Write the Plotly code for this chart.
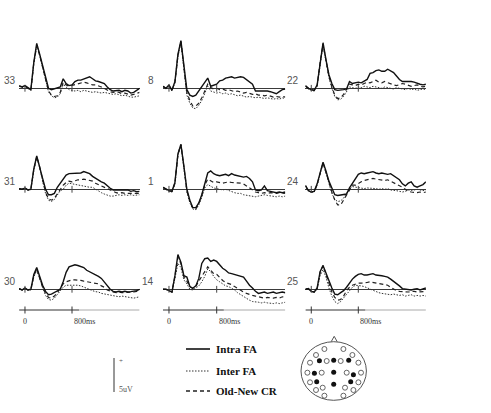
import plotly.graph_objects as go

W, H = 491, 413

# ---------------- data ----------------
time_ms = list(range(-100, 2000, 50))          # 42 samples, -100 .. 1950 ms
electrodes = ["33", "8", "22", "31", "1", "24", "30", "14", "25"]
conditions = ["Intra FA", "Inter FA", "Old-New CR"]
time_ticks = [0, 800]
time_tick_labels = ["0", "800ms"]
scale_bar_uV = [0, 5]

e33_intra = [0.4,0.2,0.4,0.1,-0.2,3.8,6.6,5.0,3.2,1.6,0.0,-0.2,-0.1,0.0,0.2,1.4,0.7,0.4,0.5,1.0,1.2,1.2,1.4,1.5,1.7,1.4,1.1,1.0,0.9,0.7,0.2,-0.2,-0.4,-0.3,-0.3,-0.5,-0.3,-0.4,-0.7,-0.6,-0.3,0.0]
e33_inter = [0.3,0.1,0.3,0.0,-0.3,3.6,6.4,4.8,3.0,1.2,-0.5,-1.1,-1.4,-1.3,-0.8,0.6,0.2,-0.2,-0.3,-0.4,-0.3,-0.5,-0.3,-0.4,-0.5,-0.6,-0.5,-0.6,-0.7,-0.6,-0.7,-0.8,-0.9,-0.8,-1.0,-1.1,-1.0,-1.2,-1.3,-1.3,-1.2,-1.1]
e33_cr    = [0.3,0.2,0.3,0.0,-0.3,3.7,6.2,4.9,3.1,1.4,-0.4,-1.0,-1.2,-1.1,-0.6,0.9,0.5,0.3,0.4,0.6,0.7,0.8,0.9,0.8,0.6,0.5,0.5,0.4,0.2,0.0,-0.3,-0.5,-0.6,-0.5,-0.6,-0.8,-0.7,-0.8,-1.0,-0.9,-0.7,-0.6]

e8_intra = [0.3,0.0,0.5,-0.3,1.0,5.0,7.0,3.5,-0.2,-1.0,-1.2,-1.0,-0.4,0.3,0.9,1.5,0.3,0.4,0.6,1.1,1.2,1.5,1.6,1.7,1.5,1.6,1.7,1.6,1.3,1.0,0.6,-0.4,-0.4,-0.3,-0.3,-0.4,-0.5,-0.6,-0.8,-0.5,-0.2,-0.1]
e8_inter = [0.2,-0.1,0.3,-0.4,0.8,4.6,6.8,3.0,-1.0,-2.2,-2.9,-3.0,-2.5,-1.8,-0.8,0.3,-0.4,-0.6,-0.7,-0.6,-0.8,-0.7,-0.9,-0.8,-1.0,-1.1,-1.0,-1.2,-1.3,-1.2,-1.3,-1.4,-1.3,-1.4,-1.5,-1.4,-1.5,-1.6,-1.5,-1.6,-1.4,-1.5]
e8_cr    = [0.3,0.0,0.4,-0.3,0.9,4.8,6.9,3.2,-0.6,-1.8,-2.6,-2.6,-2.2,-1.4,-0.4,0.6,0.1,-0.1,0.0,-0.2,-0.1,-0.3,-0.2,-0.4,-0.5,-0.4,-0.6,-0.7,-0.6,-0.8,-0.9,-0.8,-1.0,-1.0,-1.1,-1.0,-1.2,-1.3,-1.2,-1.3,-1.2,-1.3]

e22_intra = [0.4,0.0,-0.2,-0.3,0.5,4.0,6.7,4.2,2.0,0.7,-0.2,-0.3,-0.3,-0.2,-0.1,1.0,0.7,0.8,0.9,0.8,1.0,1.3,2.2,2.3,2.6,2.7,2.5,2.5,2.8,2.6,2.3,1.8,1.3,1.0,1.0,1.1,1.0,0.9,0.7,0.6,0.5,0.6]
e22_inter = [0.3,-0.1,-0.3,-0.4,0.3,3.6,6.3,4.0,1.6,0.0,-1.2,-1.7,-1.6,-1.2,-0.4,0.2,0.1,0.0,0.2,0.1,0.3,0.2,0.1,0.3,0.2,0.1,0.0,0.2,0.1,0.0,-0.1,0.1,0.0,-0.1,-0.2,0.0,-0.2,-0.1,-0.3,-0.2,-0.1,-0.2]
e22_cr    = [0.3,0.0,-0.2,-0.3,0.4,3.8,6.5,4.1,1.8,0.2,-1.0,-1.5,-1.4,-0.9,-0.2,0.6,0.5,0.4,0.6,0.5,0.7,0.9,0.8,1.0,1.2,0.9,0.8,1.0,0.8,0.6,0.5,0.4,0.5,0.7,0.6,0.4,0.3,0.4,0.5,0.3,0.2,0.3]

e31_intra = [0.1,0.0,0.2,-0.1,0.0,3.0,4.9,3.4,1.6,0.0,-0.8,-0.8,-0.6,0.3,0.9,1.6,2.1,2.3,2.3,2.35,2.3,2.4,2.6,2.5,2.3,1.9,1.6,1.4,1.1,0.9,0.5,0.15,-0.1,-0.1,-0.2,-0.1,-0.2,-0.1,-0.3,-0.2,-0.35,-0.3]
e31_inter = [0.1,0.0,0.1,-0.1,-0.1,2.8,4.7,3.2,1.2,-0.6,-1.6,-1.8,-1.5,-0.9,-0.2,0.0,0.6,0.9,0.8,0.7,0.6,0.6,0.5,0.4,0.3,0.3,0.0,-0.2,-0.5,-0.7,-0.9,-1.0,-1.0,-0.9,-0.8,-0.9,-0.8,-0.9,-0.8,-0.9,-0.8,-0.8]
e31_cr    = [0.1,0.0,0.2,-0.1,0.0,2.9,4.8,3.3,1.4,-0.4,-1.4,-1.6,-1.3,-0.6,0.1,0.6,1.0,1.2,1.1,1.3,1.4,1.4,1.5,1.4,1.3,1.2,0.9,0.7,0.4,0.2,0.0,-0.2,-0.4,-0.5,-0.6,-0.5,-0.6,-0.6,-0.5,-0.6,-0.5,-0.6]

e1_intra = [0.3,0.0,-0.2,-0.3,1.0,5.2,6.6,3.4,0.0,-1.6,-2.7,-2.7,-2.0,-0.8,0.8,2.4,2.7,2.3,2.1,2.0,2.1,2.2,2.0,2.3,2.1,2.0,1.9,1.8,1.9,1.6,1.1,-0.1,-0.2,-0.1,0.5,-0.2,-0.3,-0.4,-0.5,-0.4,-0.5,-0.4]
e1_inter = [0.2,-0.1,-0.3,-0.4,0.8,5.0,6.5,3.2,-0.4,-2.0,-2.9,-3.0,-2.3,-1.2,0.2,0.7,0.4,0.2,0.1,0.0,-0.1,0.0,-0.2,-0.4,-0.5,-0.6,-0.6,-0.8,-0.9,-1.0,-1.1,-1.1,-1.0,-0.9,-0.8,-0.9,-1.0,-1.0,-1.1,-1.0,-1.1,-1.0]
e1_cr    = [0.3,0.0,-0.2,-0.3,0.9,5.1,6.6,3.3,-0.2,-1.8,-2.8,-2.9,-2.1,-0.9,0.6,1.5,1.2,1.0,1.1,1.0,0.9,1.0,1.1,1.0,1.0,1.0,0.9,0.8,0.5,0.2,-0.2,-0.4,-0.5,-0.6,-0.5,-0.6,-0.5,-0.6,-0.6,-0.5,-0.6,-0.6]

e24_intra = [0.6,-0.2,-0.4,-0.3,0.8,2.6,4.0,2.7,1.2,0.2,-0.8,-0.9,-0.8,-0.8,-0.7,0.2,0.9,1.5,2.2,2.4,2.3,2.4,2.5,2.6,2.4,2.3,2.4,2.3,2.2,2.3,2.0,1.8,1.4,0.8,0.5,0.9,1.1,0.5,0.3,0.5,0.7,1.1]
e24_inter = [0.5,-0.2,-0.4,-0.4,0.6,2.4,3.8,2.4,0.7,-0.6,-1.5,-1.8,-1.7,-1.3,-0.6,0.0,0.4,0.3,0.2,0.2,0.1,0.2,0.2,0.1,0.1,0.0,0.1,0.0,0.1,-0.1,-0.1,-0.2,-0.3,-0.4,-0.3,-0.1,-0.2,-0.1,0.0,-0.1,-0.2,-0.1]
e24_cr    = [0.5,-0.2,-0.4,-0.3,0.7,2.5,3.9,2.5,0.9,-0.4,-1.6,-2.3,-2.3,-1.6,-0.8,0.0,0.6,0.6,0.9,1.1,1.3,1.4,1.5,1.6,1.5,1.4,1.4,1.3,1.4,1.2,1.0,0.8,0.5,0.3,0.0,-0.3,-0.4,-0.5,-0.5,-0.4,-0.5,-0.4]

e30_intra = [0.1,-0.1,0.2,-0.1,0.0,2.2,3.2,1.9,0.6,-0.3,-0.8,-0.7,-0.5,-0.3,0.0,1.1,2.5,3.3,3.5,3.6,3.5,3.4,3.2,2.8,2.6,2.4,2.2,1.9,1.6,1.1,0.6,0.0,-0.3,-0.4,-0.3,-0.4,-0.3,-0.4,-0.35,-0.3,-0.2,0.0]
e30_inter = [0.1,-0.1,0.1,-0.1,-0.1,1.8,2.8,1.5,0.1,-0.9,-1.5,-1.6,-1.3,-0.8,-0.2,0.3,0.6,0.6,0.6,0.7,0.6,0.5,0.3,0.2,0.0,-0.2,-0.35,-0.4,-0.6,-0.7,-0.8,-0.9,-0.9,-1.0,-1.1,-1.0,-1.1,-1.2,-1.3,-1.3,-1.2,-1.1]
e30_cr    = [0.1,-0.1,0.1,-0.1,0.0,2.0,3.0,1.7,0.3,-0.6,-1.2,-1.3,-1.0,-0.5,0.1,0.8,1.1,1.3,1.4,1.4,1.4,1.3,1.2,1.1,1.0,1.0,0.9,0.8,0.5,0.3,-0.1,-0.3,-0.4,-0.5,-0.4,-0.5,-0.5,-0.4,-0.5,-0.4,-0.3,-0.1]

e14_intra = [0.0,0.0,-0.2,-0.4,2.0,5.1,4.0,2.0,1.8,0.4,0.15,0.5,1.6,3.8,4.5,4.6,4.1,4.3,4.1,3.6,3.1,2.8,2.4,2.3,2.2,2.1,2.0,1.8,1.2,0.6,0.2,-0.3,-0.6,-0.5,-0.4,-0.6,-0.5,-0.4,-0.6,-0.5,-0.4,-0.5]
e14_inter = [0.0,0.0,-0.2,-0.4,1.6,3.8,3.2,1.4,0.8,0.0,-0.1,0.2,0.5,1.1,1.9,3.0,2.6,1.9,1.4,1.1,0.8,0.5,0.4,0.2,-0.1,-0.5,-0.8,-1.0,-1.3,-1.6,-1.8,-1.8,-1.9,-2.0,-1.9,-2.0,-2.1,-2.1,-2.0,-2.1,-2.0,-1.9]
e14_cr    = [0.0,0.0,-0.2,-0.4,1.9,4.7,3.8,1.8,1.2,0.4,0.1,0.4,1.2,1.9,2.6,3.3,2.8,2.3,2.2,1.7,1.3,1.0,0.9,0.7,0.4,0.1,-0.2,-0.4,-0.6,-0.8,-0.9,-1.0,-1.1,-1.2,-1.3,-1.2,-1.3,-1.3,-1.2,-1.3,-1.1,-1.2]

e25_intra = [0.0,0.1,-0.3,-0.4,0.2,2.6,3.5,2.4,1.0,0.2,-0.7,-0.8,-0.5,-0.2,0.3,1.0,1.5,1.9,2.2,2.3,2.1,2.1,2.2,2.3,2.1,2.1,2.0,1.9,1.8,1.5,1.2,0.9,0.5,0.1,0.0,0.0,-0.1,0.0,0.1,-0.1,0.1,0.2]
e25_inter = [0.0,0.1,-0.3,-0.4,0.0,2.0,2.9,1.8,0.2,-1.0,-1.8,-2.1,-1.8,-1.3,-0.8,-0.2,0.3,0.6,0.6,0.5,0.4,0.2,0.1,-0.1,-0.3,-0.5,-0.6,-0.7,-0.8,-0.8,-0.7,-0.8,-0.9,-0.8,-1.0,-0.9,-0.8,-1.0,-0.9,-1.0,-0.9,-1.0]
e25_cr    = [0.0,0.1,-0.3,-0.4,0.1,2.5,3.5,2.3,0.8,-0.4,-1.2,-1.6,-1.5,-1.0,-0.2,0.3,0.6,0.8,0.9,0.9,0.9,1.0,1.1,1.0,0.9,0.9,0.8,0.7,0.6,0.3,0.0,-0.2,-0.3,-0.35,-0.3,-0.4,-0.35,-0.3,-0.4,-0.35,-0.3,-0.3]

# electrode map (head coordinates, 1 unit = 1 px; y up; nose at top)
open_x = [-9.3, 9.7, -17.7, 18.7, -23.7, -7.0, 7.0, 24.7, -26.3, -12.0, 13.0, 27.3, -23.7, 24.7, -17.7, -11.0, 11.3, 19.7, -9.3, 9.7]
open_y = [22.0, 22.0, 16.0, 16.0, 8.3, 10.0, 10.0, 8.3, -1.7, -1.7, -1.7, -1.7, -11.3, -11.3, -19.0, -16.7, -16.7, -19.0, -24.7, -24.7]
shown_x = [-14.3, 0.0, 15.0, -19.3, 0.0, 19.7, -17.0, 0.0, 17.0]
shown_y = [10.3, 10.7, 10.7, -2.3, -1.3, -3.7, -10.7, -13.3, -10.7]

waves = {
    "33": (e33_intra, e33_inter, e33_cr), "8": (e8_intra, e8_inter, e8_cr), "22": (e22_intra, e22_inter, e22_cr),
    "31": (e31_intra, e31_inter, e31_cr), "1": (e1_intra, e1_inter, e1_cr), "24": (e24_intra, e24_inter, e24_cr),
    "30": (e30_intra, e30_inter, e30_cr), "14": (e14_intra, e14_inter, e14_cr), "25": (e25_intra, e25_inter, e25_cr),
}
for k, v in waves.items():
    for s in v:
        assert len(s) == len(time_ms), (k, len(s))

# ---------------- geometry ----------------
def px(x):
    return x / W

def py(y):
    return 1 - y / H

PX_PER_UV = 6.8
col_px = [(19.1, 139.6), (163.0, 285.3), (305.4, 425.9)]
row_base = [88.3, 189.3, 289.3]
ABOVE, BELOW = 55, 25
label_right = [17.5, 155.5, 300.5]
label_dy = 8.0

styles = {
    "Intra FA": dict(color="#111111", width=1.4, dash="solid"),
    "Inter FA": dict(color="#333333", width=1.0, dash="1.5px,1.5px"),
    "Old-New CR": dict(color="#222222", width=1.2, dash="4px,3px"),
}

fig = go.Figure()
layout = dict(width=W, height=H, margin=dict(l=0, r=0, t=0, b=0), paper_bgcolor="white",
              plot_bgcolor="rgba(0,0,0,0)", showlegend=False)
shapes, annotations = [], []

for i, e in enumerate(electrodes):
    r, c = divmod(i, 3)
    n = i + 1
    sx = "" if n == 1 else str(n)
    x0, x1 = col_px[c]
    b = row_base[r]
    layout["xaxis" + sx] = dict(domain=[px(x0), px(x1)], range=[time_ms[0], time_ms[-1]], visible=False,
                                anchor="y" + sx)
    layout["yaxis" + sx] = dict(domain=[py(b + BELOW), py(b - ABOVE)], range=[-BELOW / PX_PER_UV, ABOVE / PX_PER_UV],
                                showgrid=False, showticklabels=False, ticks="", showline=False,
                                zeroline=True, zerolinecolor="#3a3a3a", zerolinewidth=1, anchor="x" + sx)
    intra, inter, cr = waves[e]
    for cond, ys in (("Inter FA", inter), ("Old-New CR", cr), ("Intra FA", intra)):
        fig.add_trace(go.Scatter(x=time_ms, y=ys, mode="lines", name=cond, line=styles[cond],
                                 xaxis="x" + sx, yaxis="y" + sx, hoverinfo="skip"))
    # small ticks on the baseline at 0 and 800 ms
    for t in time_ticks:
        shapes.append(dict(type="line", xref="x" + sx, yref="y" + sx, x0=t, x1=t, y0=-0.5, y1=0.5,
                           line=dict(color="#444", width=1)))
    annotations.append(dict(text=e, xref="paper", yref="paper", x=px(label_right[c]), y=py(b - label_dy),
                            xanchor="right", yanchor="middle", showarrow=False,
                            font=dict(family="Liberation Sans, Arial", size=10, color="#555")))
    # time axis under the bottom row
    if r == 2:
        ya = py(310)
        shapes.append(dict(type="line", xref="x" + sx, yref="paper", x0=time_ms[0], x1=920, y0=ya, y1=ya,
                           line=dict(color="#333", width=1)))
        shapes.append(dict(type="line", xref="x" + sx, yref="paper", x0=920, x1=time_ms[-1], y0=ya, y1=ya,
                           line=dict(color="#aaa", width=1)))
        for t, lab in zip(time_ticks, time_tick_labels):
            shapes.append(dict(type="line", xref="x" + sx, yref="paper", x0=t, x1=t, y0=py(306.5), y1=py(313.5),
                               line=dict(color="#333", width=1)))
            annotations.append(dict(text=lab, xref="x" + sx, yref="paper", x=t, y=py(321),
                                    xanchor="center" if t == 0 else "left", yanchor="middle", showarrow=False,
                                    font=dict(family="Liberation Serif, Times New Roman", size=8, color="#333")))

# ---------------- scale bar (5 uV) ----------------
sb_bottom = 392.0
layout["xaxis10"] = dict(domain=[px(104), px(144)], range=[-10, 30], visible=False, anchor="y10")
layout["yaxis10"] = dict(domain=[py(398), py(352)], range=[-(398 - sb_bottom) / PX_PER_UV, (sb_bottom - 352) / PX_PER_UV],
                         visible=False, anchor="x10")
fig.add_trace(go.Scatter(x=[0, 0], y=scale_bar_uV, mode="lines", line=dict(color="#333", width=1),
                         xaxis="x10", yaxis="y10", hoverinfo="skip"))
annotations.append(dict(text="+", xref="x10", yref="y10", x=2.5, y=4.5, xanchor="left", yanchor="middle",
                        showarrow=False, font=dict(family="Liberation Serif", size=7, color="#555")))
annotations.append(dict(text="5uV", xref="x10", yref="y10", x=2.5, y=0.35, xanchor="left", yanchor="middle",
                        showarrow=False, font=dict(family="Liberation Serif", size=8, color="#555")))

# ---------------- legend (drawn) ----------------
leg_y = [349, 371, 391]
for cond, yy in zip(conditions, leg_y):
    st = styles[cond]
    shapes.append(dict(type="line", xref="paper", yref="paper", x0=px(186), x1=px(210), y0=py(yy), y1=py(yy),
                       line=dict(color=st["color"], width=st["width"] + 0.2, dash=st["dash"])))
    annotations.append(dict(text="<b>" + cond + "</b>", xref="paper", yref="paper", x=px(214), y=py(yy),
                            xanchor="left", yanchor="middle", showarrow=False,
                            font=dict(family="Liberation Serif, Times New Roman", size=11, color="#111")))

# ---------------- head map ----------------
cx, cy = 333.7, 371.0
layout["xaxis11"] = dict(domain=[px(cx - 40), px(cx + 40)], range=[-40, 40], visible=False, anchor="y11")
layout["yaxis11"] = dict(domain=[py(cy + 40), py(cy - 40)], range=[-40, 40], visible=False, anchor="x11")
shapes.append(dict(type="circle", xref="x11", yref="y11", x0=-32.7, x1=32.7, y0=-29.3, y1=29.3,
                   line=dict(color="#555", width=1)))
shapes.append(dict(type="path", xref="x11", yref="y11", path="M -2.5 29.3 L 0.5 34.7 L 3.5 29.3",
                   line=dict(color="#555", width=1)))
fig.add_trace(go.Scatter(x=open_x, y=open_y, mode="markers", xaxis="x11", yaxis="y11", hoverinfo="skip",
                         marker=dict(symbol="circle-open", size=5, color="#555", line=dict(width=0.9, color="#555"))))
fig.add_trace(go.Scatter(x=shown_x, y=shown_y, mode="markers", xaxis="x11", yaxis="y11", hoverinfo="skip",
                         marker=dict(symbol="circle", size=5, color="#111")))

layout["shapes"] = shapes
layout["annotations"] = annotations
fig.update_layout(**layout)
fig.write_html("out.html")
